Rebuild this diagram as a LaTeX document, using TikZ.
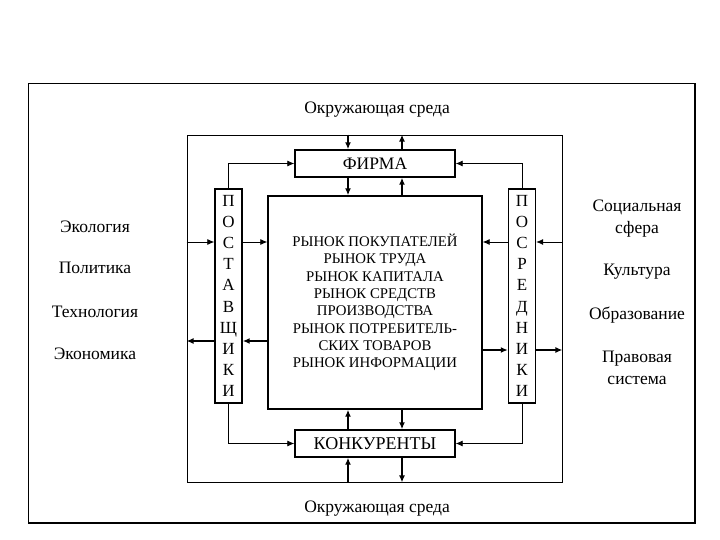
\documentclass[tikz,border=0pt]{standalone}
\usepackage{fontspec}
\setmainfont{Liberation Serif}
\usetikzlibrary{arrows.meta}
\begin{document}
\begin{tikzpicture}[x=1pt,y=-1pt,
  thinln/.style={line width=0.8pt},
  thickln/.style={line width=1.4pt},
  arr/.style={-{Latex[length=7pt,width=6pt]}},
  boxs/.style={draw,line width=1.4pt,inner sep=0pt},
  lbl/.style={font=\fontsize{17.5}{21}\selectfont,align=center,inner sep=0pt},
  lbltwo/.style={lbl,font=\fontsize{17.5}{22}\selectfont},
  letters/.style={boxs,font=\fontsize{17}{21.2}\selectfont,align=center,minimum width=27pt,minimum height=214pt}
]
\useasboundingbox (0,0) rectangle (720,540);
% outer frame
\draw[line width=0.9pt] (695,83) -- (28,83) -- (28,523);
\draw[line width=1.5pt] (28,523) -- (695,523) -- (695,83);
% inner frame
\node[draw,line width=0.8pt,minimum width=375pt,minimum height=347pt,inner sep=0pt] (frame) at (374.5,308.5) {};
% boxes
\node[boxs,minimum width=160pt,minimum height=27pt,font=\fontsize{17.5}{19}\selectfont] (firm) at (375,163.5) {ФИРМА};
\node[boxs,minimum width=160pt,minimum height=27pt,font=\fontsize{18}{19}\selectfont] (comp) at (375,443.5) {КОНКУРЕНТЫ};
\node[boxs,minimum width=214pt,minimum height=213pt,font=\fontsize{14.8}{17.3}\selectfont,align=center] (mkt) at (375,302.5)
 {РЫНОК ПОКУПАТЕЛЕЙ\\РЫНОК ТРУДА\\РЫНОК КАПИТАЛА\\РЫНОК СРЕДСТВ\\ПРОИЗВОДСТВА\\РЫНОК ПОТРЕБИТЕЛЬ-\\СКИХ ТОВАРОВ\\РЫНОК ИНФОРМАЦИИ};
\node[letters] (sup) at (228.5,296) {П\\О\\С\\Т\\А\\В\\Щ\\И\\К\\И};
\node[letters] (mid) at (522,296) {П\\О\\С\\Р\\Е\\Д\\Н\\И\\К\\И};
% coordinates
\coordinate (xa) at (348,0);
\coordinate (xb) at (402,0);
\coordinate (ya) at (0,242);
\coordinate (yb) at (0,341);
\coordinate (yc) at (0,350);
% vertical arrows top
\draw[thickln,arr] (frame.north -| xa) -- (firm.north -| xa);
\draw[thickln,arr] (firm.north -| xb) -- (frame.north -| xb);
\draw[thickln,arr] (firm.south -| xa) -- (mkt.north -| xa);
\draw[thickln,arr] (mkt.north -| xb) -- (firm.south -| xb);
% vertical arrows bottom
\draw[thickln,arr] (comp.north -| xa) -- (mkt.south -| xa);
\draw[thickln,arr] (mkt.south -| xb) -- (comp.north -| xb);
\draw[thickln,arr] (frame.south -| xa) -- (comp.south -| xa);
\draw[thickln,arr] (comp.south -| xb) -- (frame.south -| xb);
% suppliers
\draw[thinln,arr] (frame.west |- ya) -- (sup.west |- ya);
\draw[thinln,arr] (sup.east |- ya) -- (mkt.west |- ya);
\draw[thickln,arr] (mkt.west |- yb) -- (sup.east |- yb);
\draw[thickln,arr] (sup.west |- yb) -- (frame.west |- yb);
\draw[thinln,arr] (sup.north) |- (firm.west);
\draw[thinln,arr] (sup.south) |- (comp.west);
% intermediaries
\draw[thinln,arr] (frame.east |- ya) -- (mid.east |- ya);
\draw[thinln,arr] (mid.west |- ya) -- (mkt.east |- ya);
\draw[thickln,arr] (mkt.east |- yc) -- (mid.west |- yc);
\draw[thickln,arr] (mid.east |- yc) -- (frame.east |- yc);
\draw[thinln,arr] (mid.north) |- (firm.east);
\draw[thinln,arr] (mid.south) |- (comp.east);
% environment labels
\node[lbl] (envt) at (377,110) {Окружающая среда};
\node[lbl] (envb) at (377,509) {Окружающая среда};
\node[lbl] (l1) at (95,227) {Экология};
\node[lbl] (l2) at (95,268) {Политика};
\node[lbl] (l3) at (95,312) {Технология};
\node[lbl] (l4) at (95,354) {Экономика};
\node[lbltwo] (r1) at (637,219) {Социальная\\сфера};
\node[lbl] (r2) at (637,272) {Культура};
\node[lbl] (r3) at (637,315) {Образование};
\node[lbltwo] (r4) at (637,368) {Правовая\\система};
\end{tikzpicture}
\end{document}
